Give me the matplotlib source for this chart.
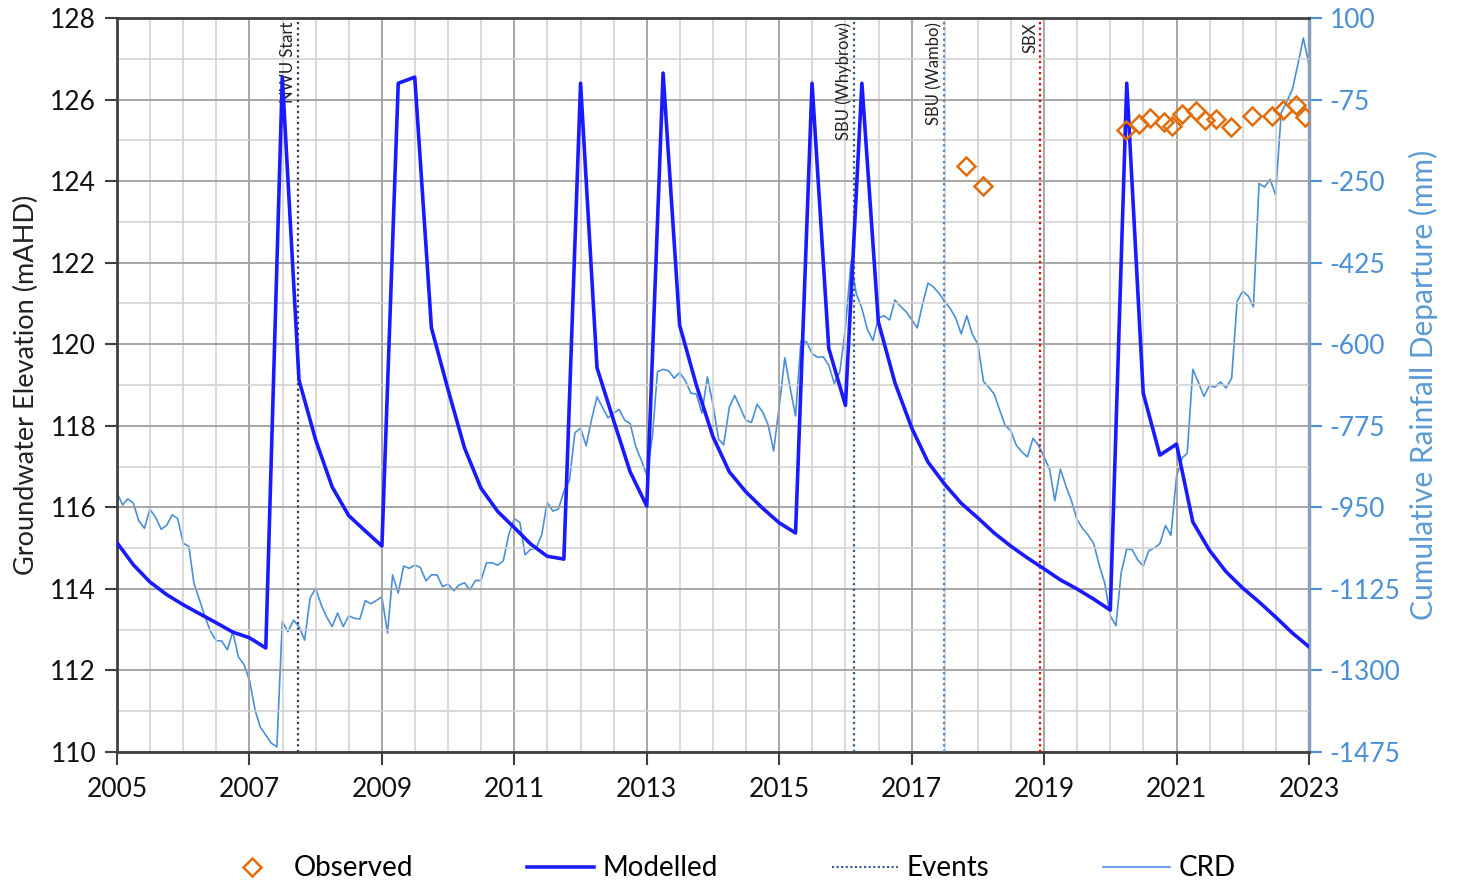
import matplotlib.pyplot as plt
import numpy as np
import pandas as pd
from matplotlib.lines import Line2D
from matplotlib.ticker import MultipleLocator

plt.rcParams["font.family"] = ["Lato", "DejaVu Sans"]
plt.rcParams["axes.unicode_minus"] = False


def decimal_year(dates):
    d = pd.to_datetime(dates)
    days = np.where(d.is_leap_year, 366, 365)
    return np.asarray(d.year + (d.dayofyear - 1) / days, dtype=float)


# %% Data
# Modelled groundwater elevation (mAHD), quarterly 2005 - 2023
model_dates = pd.date_range("2005-01-01", "2023-01-01", freq="QS")
modelled = [
    115.13, 114.59, 114.17, 113.86,
    113.61, 113.39, 113.17, 112.94,
    112.80, 112.55, 126.55, 119.12,
    117.65, 116.50, 115.80, 115.42,
    115.05, 126.40, 126.55, 120.40,
    118.88, 117.46, 116.47, 115.90,
    115.50, 115.10, 114.80, 114.73,
    126.40, 119.42, 118.14, 116.87,
    116.03, 126.65, 120.47, 119.00,
    117.73, 116.87, 116.38, 115.98,
    115.62, 115.37, 126.40, 119.90,
    118.50, 126.40, 120.55, 119.05,
    117.95, 117.11, 116.57, 116.10,
    115.74, 115.37, 115.05, 114.76,
    114.49, 114.22, 114.00, 113.75,
    113.48, 126.40, 118.80, 117.28,
    117.55, 115.64, 114.95, 114.42,
    114.02, 113.68, 113.31, 112.92,
    112.58,
]

# Observed groundwater elevation (mAHD)
obs_dates = [
    "2017-10-27", "2018-01-30", "2020-03-28", "2020-06-06", "2020-08-07",
    "2020-10-23", "2020-12-06", "2021-01-30", "2021-04-16", "2021-06-06",
    "2021-08-07", "2021-10-27", "2022-02-21", "2022-06-10", "2022-08-11",
    "2022-10-19", "2022-12-09",
]
observed = [
    124.37, 123.88, 125.25, 125.40, 125.55,
    125.45, 125.35, 125.65, 125.72, 125.50,
    125.52, 125.33, 125.60, 125.60, 125.74,
    125.87, 125.57,
]

# Cumulative rainfall departure (mm), monthly 2005 - 2023
crd_dates = pd.date_range("2005-01-01", "2023-01-01", freq="MS")
crd = [
    -919, -945, -932, -941, -979, -995, -954, -971, -997, -989, -966, -974,
    -1027, -1034, -1113, -1149, -1185, -1217, -1236, -1237, -1256, -1217, -1271, -1287,
    -1321, -1385, -1421, -1439, -1456, -1464, -1195, -1217, -1192, -1206, -1235, -1145,
    -1124, -1160, -1185, -1206, -1177, -1206, -1183, -1188, -1190, -1150, -1157, -1150,
    -1142, -1220, -1095, -1134, -1076, -1081, -1074, -1079, -1108, -1095, -1095, -1120,
    -1115, -1129, -1117, -1112, -1127, -1107, -1107, -1069, -1069, -1074, -1065, -1009,
    -974, -983, -1052, -1040, -1038, -1009, -939, -958, -954, -916, -891, -790,
    -780, -818, -763, -713, -735, -758, -748, -740, -763, -770, -820, -848,
    -881, -798, -659, -654, -657, -673, -661, -678, -705, -707, -748, -670,
    -730, -804, -816, -735, -710, -737, -763, -768, -729, -745, -773, -829,
    -734, -629, -691, -754, -593, -595, -620, -628, -627, -645, -684, -659,
    -566, -421, -492, -523, -568, -592, -544, -539, -548, -505, -519, -530,
    -547, -565, -516, -469, -477, -491, -507, -523, -544, -578, -539, -578,
    -600, -680, -692, -707, -741, -775, -785, -817, -831, -842, -802, -817,
    -842, -869, -936, -868, -904, -936, -976, -995, -1010, -1027, -1074, -1112,
    -1183, -1204, -1091, -1039, -1041, -1063, -1076, -1043, -1037, -1028, -989, -1010,
    -884, -844, -834, -654, -681, -712, -689, -692, -681, -694, -673, -508,
    -486, -497, -520, -255, -263, -246, -280, -104, -79, -54, 0, 57,
    0,
]

# Events
event_names = ["NWU Start", "SBU (Whybrow)", "SBU (Wambo)", "SBX"]
event_dates = ["2007-09-24", "2016-02-17", "2017-07-01", "2018-12-10"]
event_colors = ["#3d3360", "#2e5c8a", "#4a86c8", "#e00000"]

# %% Plot
crd_blue = "#4a90d9"
fig = plt.figure(figsize=(14.63, 8.88), dpi=100)
ax = fig.add_axes([0.08, 0.1532, 0.8147, 0.8265])
ax2 = ax.twinx()
ax.set_zorder(ax2.get_zorder() + 1)
ax.patch.set_visible(False)

ax2.plot(decimal_year(crd_dates), crd, color=crd_blue, lw=1.2)

ax.plot(decimal_year(model_dates), modelled, color="#1a1aff", lw=2.6, zorder=4)
ax.plot(
    decimal_year(obs_dates), observed, "D", ms=9.5, mfc="none",
    mec="#e46c0a", mew=1.8, zorder=5,
)

for name, date, col in zip(event_names, event_dates, event_colors):
    xe = decimal_year([date])[0]
    ax.axvline(xe, color=col, ls=(0, (1, 1.5)), lw=1.6, zorder=3)
    ax.text(xe - 0.03, 127.9, name, rotation=90, ha="right", va="top",
            fontsize=12, color="#222222")

ax.set_xlim(2005, 2023)
ax.set_ylim(110, 128)
ax2.set_ylim(-1475, 100)

ax.set_xticks(np.arange(2005, 2024, 2))
ax.xaxis.set_minor_locator(MultipleLocator(0.5))
ax.yaxis.set_major_locator(MultipleLocator(2))
ax.yaxis.set_minor_locator(MultipleLocator(1))
ax2.set_yticks(np.arange(-1475, 101, 175))

ax.grid(which="major", color="#a0a0a0", lw=1.3)
ax.grid(which="minor", color="#cfcfcf", lw=1.1)
ax.set_axisbelow(True)

ax.tick_params(which="major", length=9, width=1.5, color="#404040",
               labelsize=19, pad=6, labelcolor="#111111")
ax.tick_params(which="minor", length=0)
ax.tick_params(axis="x", pad=9)
ax2.tick_params(length=9, width=1.5, color=crd_blue, labelcolor=crd_blue,
                labelsize=19, pad=6)

for side in ["left", "bottom", "top"]:
    ax.spines[side].set_color("#404040")
    ax.spines[side].set_linewidth(2)
ax.spines["right"].set_visible(False)
for side in ["left", "bottom", "top"]:
    ax2.spines[side].set_visible(False)
ax2.spines["right"].set_color("#7f9fc4")
ax2.spines["right"].set_linewidth(2.5)

ax.set_ylabel("Groundwater Elevation (mAHD)", fontsize=19.5, color="#222222", labelpad=8)
ax2.set_ylabel("Cumulative Rainfall Departure (mm)", fontsize=21.5, color="#5b9bd5", labelpad=6)

handles = [
    Line2D([], [], ls="none", marker="D", ms=9, mfc="none", mec="#e46c0a", mew=1.8),
    Line2D([], [], color="#1a1aff", lw=2.6),
    Line2D([], [], color="#2f5597", ls=(0, (1, 1.2)), lw=1.5),
    Line2D([], [], color=crd_blue, lw=1.2),
]
fig.legend(
    handles, ["Observed", "Modelled", "Events", "CRD"],
    loc="center", bbox_to_anchor=(0.497, 0.022), ncol=4, frameon=False,
    fontsize=20, handlelength=2.4, handletextpad=0.3, columnspacing=4.1,
)

fig.savefig("out.png", dpi=100)
